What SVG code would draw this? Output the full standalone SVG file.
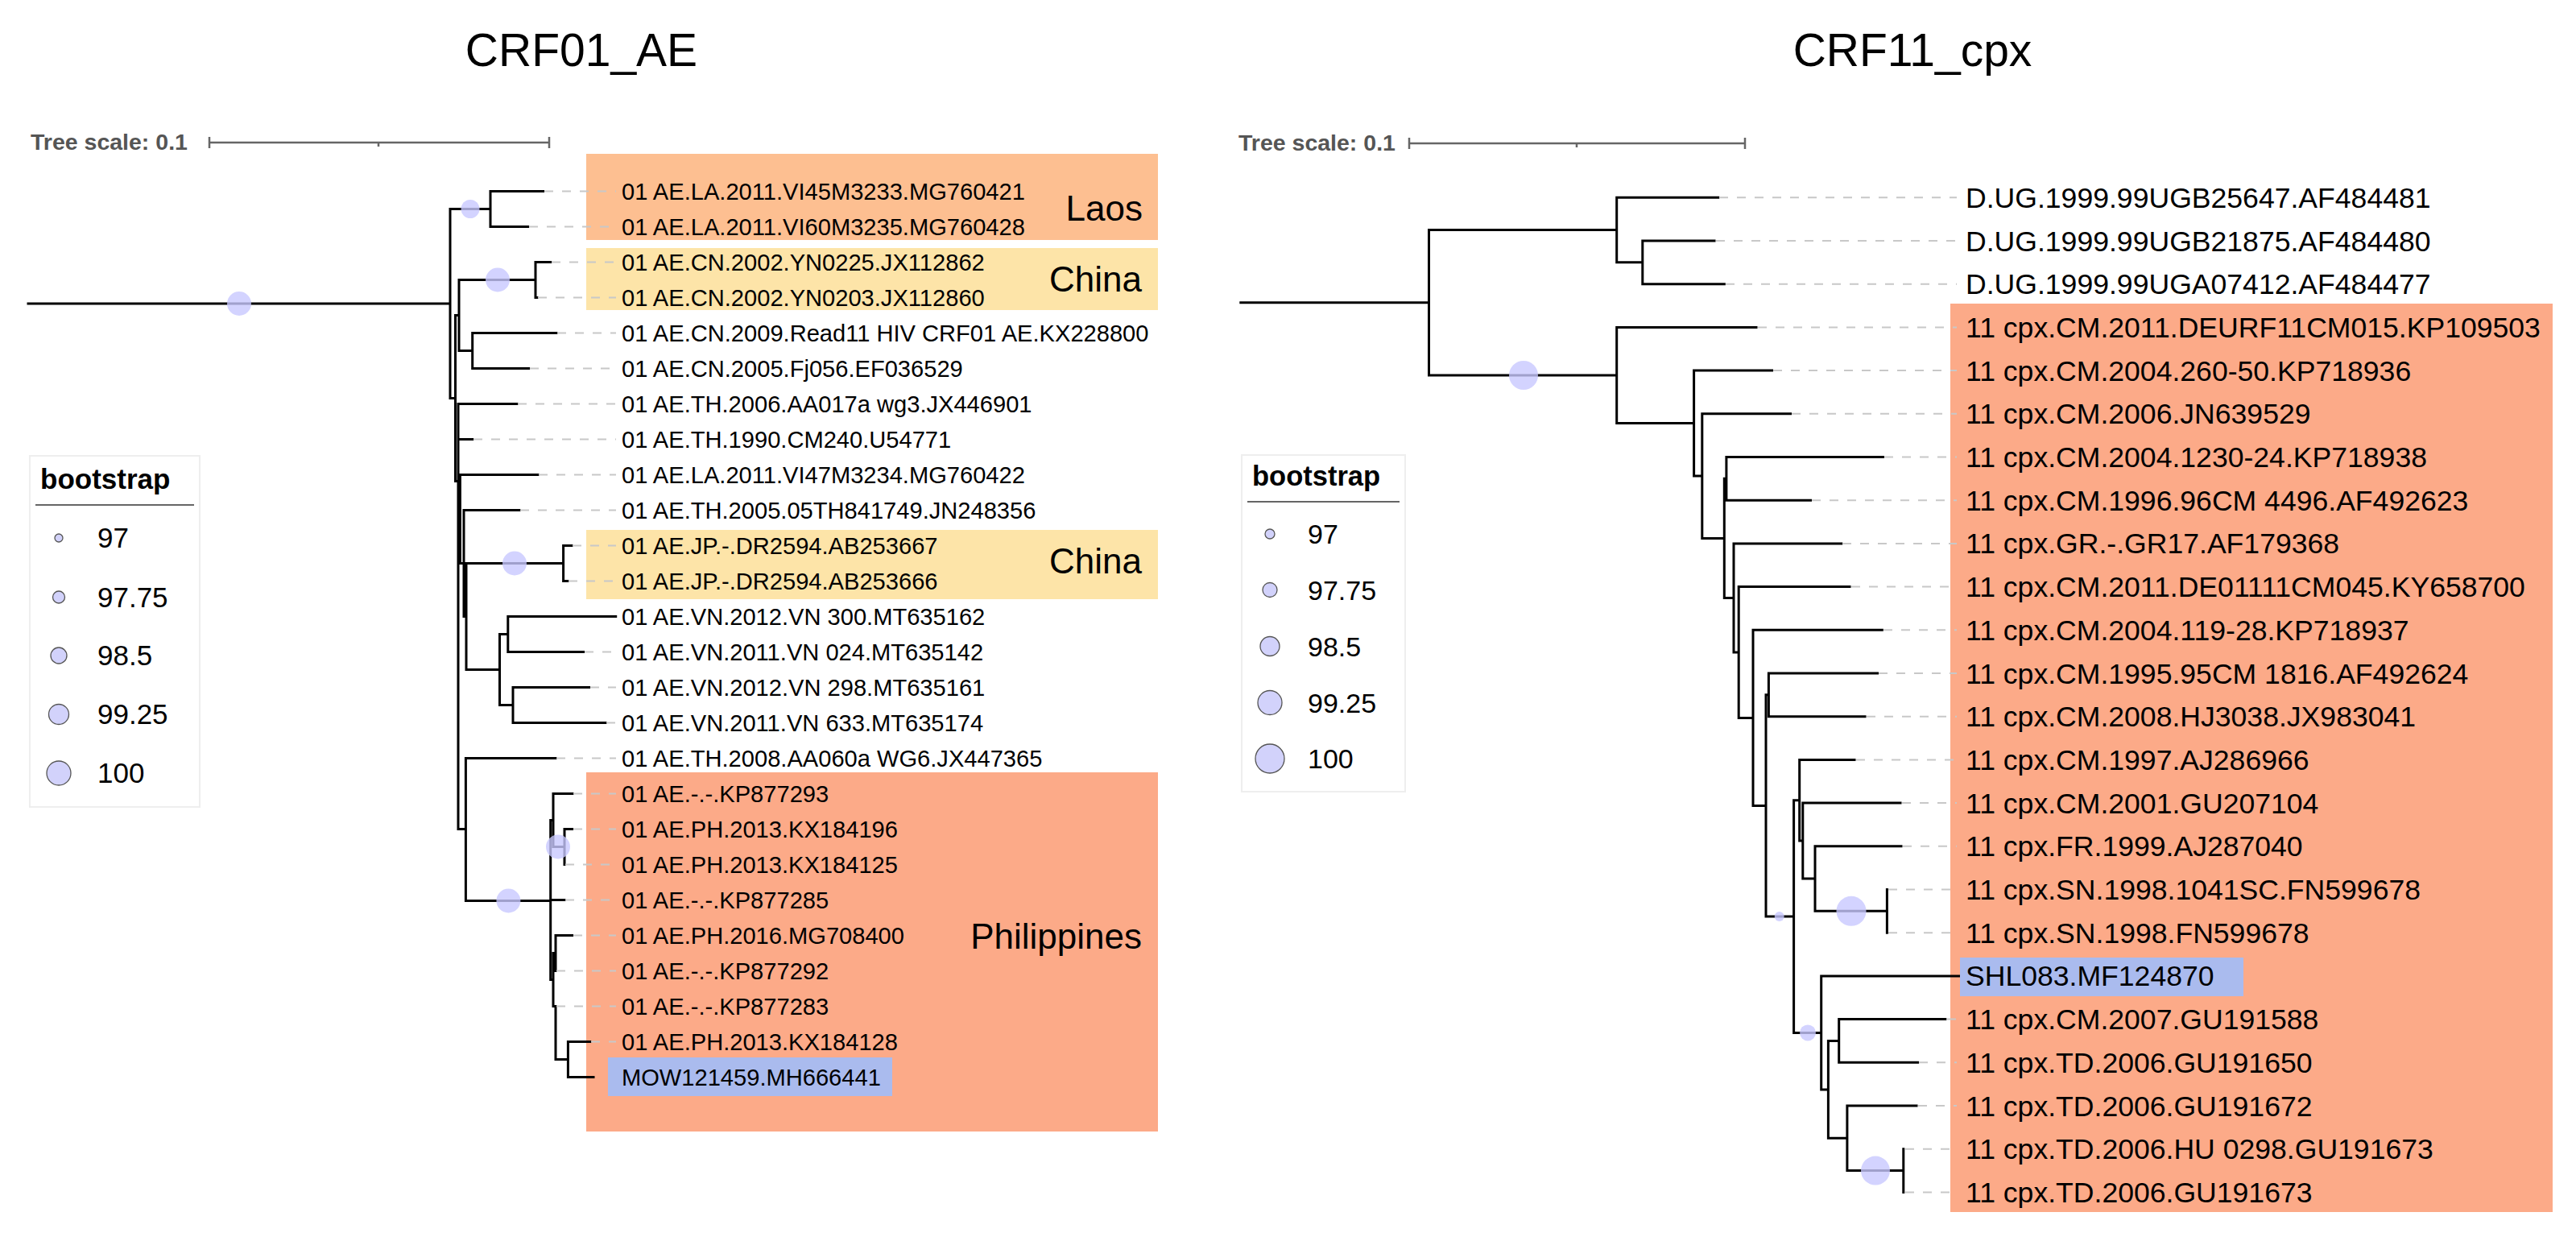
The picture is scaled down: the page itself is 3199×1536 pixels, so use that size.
<svg xmlns="http://www.w3.org/2000/svg" width="3199" height="1536" viewBox="0 0 3199 1536">
<style>
text{font-family:"Liberation Sans",Arial,sans-serif;fill:#000}
.title{font-size:57px}
.scale{font-size:28.5px;font-weight:bold;fill:#555}
.sbar{stroke:#666;stroke-width:2.5;fill:none}
.lab{font-size:29.1px}
.labr{font-size:35.6px}
.hl{font-size:44px;text-anchor:end}
.br{stroke:#000;stroke-width:3;fill:none;stroke-linecap:square}
.dash{stroke:#c8c8c8;stroke-width:2;stroke-dasharray:11 11;fill:none}
.bs{fill:#c8c8ff;fill-opacity:0.8}
.lgc{fill:#d2d2fb;stroke:#555;stroke-width:1.3}
.lgbox{fill:#fff;stroke:#eeeeee;stroke-width:2}
.lgt{font-size:35px;font-weight:bold}
.lgv{font-size:35px}
.lgv2{font-size:34px}
.laos{fill:#fdbf91}
.china{fill:#fde4a8}
.phil{fill:#fcaa88}
.me{fill:#aabbee}
</style>

<!-- ===== LEFT PANEL: CRF01_AE ===== -->
<g id="left-title"><text class="title" x="722" y="82" text-anchor="middle">CRF01_AE</text></g>
<g id="left-scale">
<text class="scale" x="38" y="186">Tree scale: 0.1</text>
<path class="sbar" d="M260,177H682 M260,170V184 M682,170V184 M470,177V182"/>
</g>

<g id="left-highlights">
<rect class="laos" x="728" y="191" width="710" height="107"/>
<rect class="china" x="728" y="308" width="710" height="77"/>
<rect class="china" x="728" y="658" width="710" height="86"/>
<rect class="phil" x="728" y="959" width="710" height="446"/>
<text class="hl" x="1419" y="274">Laos</text>
<text class="hl" x="1418" y="362">China</text>
<text class="hl" x="1418" y="712">China</text>
<text class="hl" x="1418" y="1178">Philippines</text>
</g>

<g id="left-legend">
<rect class="lgbox" x="37" y="566" width="211" height="436"/>
<text class="lgt" x="50" y="607">bootstrap</text>
<line x1="44" y1="627" x2="241" y2="627" stroke="#666" stroke-width="2"/>
<circle class="lgc" cx="73" cy="668" r="5"/><text class="lgv" x="121" y="680">97</text>
<circle class="lgc" cx="73" cy="741.5" r="7.5"/><text class="lgv" x="121" y="753.5">97.75</text>
<circle class="lgc" cx="73" cy="814" r="10"/><text class="lgv" x="121" y="826">98.5</text>
<circle class="lgc" cx="73" cy="887" r="12.5"/><text class="lgv" x="121" y="899">99.25</text>
<circle class="lgc" cx="73" cy="960" r="15"/><text class="lgv" x="121" y="972">100</text>
</g>

<g id="left-connectors">
<path class="br" d="M35,377H559 M559,259.5V494.5
M559,259.5H609 M609,237.5V281.5 M609,237.5H674.5 M609,281.5H655.6
M559,494.5H565.5 M565.5,391.5V597.5
M565.5,391.5H570 M570,347.5V435.5
M570,347.5H665 M665,325.5V369.5 M665,325.5H683.7 M665,369.5H667
M570,435.5H586.7 M586.7,413.5V457.5 M586.7,413.5H691 M586.7,457.5H656.6
M565.5,597.5H569 M569,501.5V1029.5
M569,501.5H642 M569,545.5H586.7
M569,644.5H571.4 M571.4,589.5V699.5 M571.4,589.5H668
M571.4,699.5H576 M576,633.5V765.5 M576,633.5H645
M576,765.5H579 M579,699.5V831.5
M579,699.5H699.6 M699.6,677.5V721.5 M699.6,677.5H710 M699.6,721.5H705
M579,831.5H620.5 M620.5,787.5V875.5 M620.5,787.5H630.8 M630.8,765.5V809.5 M630.8,765.5H764.7 M630.8,809.5H724.5
M620.5,875.5H637 M637,853.5V897.5 M637,853.5H731.5 M637,897.5H752
M569,1029.5H578.4 M578.4,941.5V1118.5 M578.4,941.5H690 M578.4,1118.5H683.7
M683.7,1018.5V1216.5
M683.7,1018.5H687 M687,985.5V1051.5 M687,985.5H711 M687,1051.5H701 M701,1029.5V1073.5 M701,1029.5H710.5
M683.7,1117.5H701
M683.7,1216.5H687 M687,1183.5V1249.5 M687,1183.5H690 M690,1161.5V1205.5 M690,1161.5H710.5
M687,1249.5H690 M690,1249.5V1315.5 M690,1315.5H705.4 M705.4,1293.5V1337.5 M705.4,1293.5H732.8 M705.4,1337.5H737"/>
<path class="dash" d="M676,237.5H765 M657,281.5H765 M685,325.5H765 M668,369.5H765 M692,413.5H765 M658,457.5H765 M643,501.5H765 M588,545.5H765 M669,589.5H765 M646,633.5H765 M711,677.5H765 M706,721.5H765 M726,809.5H765 M733,853.5H765 M753,897.5H765 M691,941.5H765 M712,985.5H765 M712,1029.5H765 M702,1073.5H765 M702,1117.5H765 M712,1161.5H765 M691,1205.5H765 M691,1249.5H765 M734,1293.5H765"/>
</g>

<g id="left-bootstrap">
<circle class="bs" cx="297" cy="377" r="15"/>
<circle class="bs" cx="584" cy="259.5" r="11.5"/>
<circle class="bs" cx="618" cy="347.5" r="15"/>
<circle class="bs" cx="639" cy="699.5" r="15"/>
<circle class="bs" cx="631.4" cy="1118.5" r="15"/>
<circle class="bs" cx="693" cy="1051.5" r="15"/>
</g>

<g id="left-leaves">
<g id="L01"><text class="lab" x="772" y="247.5">01 AE.LA.2011.VI45M3233.MG760421</text></g>
<g id="L02"><text class="lab" x="772" y="291.5">01 AE.LA.2011.VI60M3235.MG760428</text></g>
<g id="L03"><text class="lab" x="772" y="335.5">01 AE.CN.2002.YN0225.JX112862</text></g>
<g id="L04"><text class="lab" x="772" y="379.5">01 AE.CN.2002.YN0203.JX112860</text></g>
<g id="L05"><text class="lab" x="772" y="423.5">01 AE.CN.2009.Read11 HIV CRF01 AE.KX228800</text></g>
<g id="L06"><text class="lab" x="772" y="467.5">01 AE.CN.2005.Fj056.EF036529</text></g>
<g id="L07"><text class="lab" x="772" y="511.5">01 AE.TH.2006.AA017a wg3.JX446901</text></g>
<g id="L08"><text class="lab" x="772" y="555.5">01 AE.TH.1990.CM240.U54771</text></g>
<g id="L09"><text class="lab" x="772" y="599.5">01 AE.LA.2011.VI47M3234.MG760422</text></g>
<g id="L10"><text class="lab" x="772" y="643.5">01 AE.TH.2005.05TH841749.JN248356</text></g>
<g id="L11"><text class="lab" x="772" y="687.5">01 AE.JP.-.DR2594.AB253667</text></g>
<g id="L12"><text class="lab" x="772" y="731.5">01 AE.JP.-.DR2594.AB253666</text></g>
<g id="L13"><text class="lab" x="772" y="775.5">01 AE.VN.2012.VN 300.MT635162</text></g>
<g id="L14"><text class="lab" x="772" y="819.5">01 AE.VN.2011.VN 024.MT635142</text></g>
<g id="L15"><text class="lab" x="772" y="863.5">01 AE.VN.2012.VN 298.MT635161</text></g>
<g id="L16"><text class="lab" x="772" y="907.5">01 AE.VN.2011.VN 633.MT635174</text></g>
<g id="L17"><text class="lab" x="772" y="951.5">01 AE.TH.2008.AA060a WG6.JX447365</text></g>
<g id="L18"><text class="lab" x="772" y="995.5">01 AE.-.-.KP877293</text></g>
<g id="L19"><text class="lab" x="772" y="1039.5">01 AE.PH.2013.KX184196</text></g>
<g id="L20"><text class="lab" x="772" y="1083.5">01 AE.PH.2013.KX184125</text></g>
<g id="L21"><text class="lab" x="772" y="1127.5">01 AE.-.-.KP877285</text></g>
<g id="L22"><text class="lab" x="772" y="1171.5">01 AE.PH.2016.MG708400</text></g>
<g id="L23"><text class="lab" x="772" y="1215.5">01 AE.-.-.KP877292</text></g>
<g id="L24"><text class="lab" x="772" y="1259.5">01 AE.-.-.KP877283</text></g>
<g id="L25"><text class="lab" x="772" y="1303.5">01 AE.PH.2013.KX184128</text></g>
<g id="L26"><rect class="me" x="755" y="1313" width="353" height="48"/><text class="lab" x="772" y="1347.5">MOW121459.MH666441</text></g>
</g>

<!-- ===== RIGHT PANEL: CRF11_cpx ===== -->
<g id="right-title"><text class="title" x="2375" y="82" text-anchor="middle">CRF11_cpx</text></g>
<g id="right-scale">
<text class="scale" x="1538" y="187">Tree scale: 0.1</text>
<path class="sbar" d="M1750,178H2167 M1750,171V185 M2167,171V185 M1958,178V183"/>
</g>

<g id="right-highlights">
<rect class="phil" x="2422" y="377" width="748" height="1128"/>
</g>

<g id="right-legend">
<rect class="lgbox" x="1542" y="565" width="203" height="418"/>
<text class="lgt" x="1555" y="603" style="font-size:34.5px">bootstrap</text>
<line x1="1549" y1="623" x2="1738" y2="623" stroke="#666" stroke-width="2"/>
<circle class="lgc" cx="1577" cy="663" r="6"/><text class="lgv2" x="1624" y="675">97</text>
<circle class="lgc" cx="1577" cy="732.5" r="9"/><text class="lgv2" x="1624" y="744.5">97.75</text>
<circle class="lgc" cx="1577" cy="802.5" r="12"/><text class="lgv2" x="1624" y="814.5">98.5</text>
<circle class="lgc" cx="1577" cy="872.5" r="15"/><text class="lgv2" x="1624" y="884.5">99.25</text>
<circle class="lgc" cx="1577" cy="942" r="18"/><text class="lgv2" x="1624" y="954">100</text>
</g>

<g id="right-connectors">
<path class="br" d="M1540.8,375.8H1774.5 M1774.5,285.6V466
M1774.5,285.6H2007.7 M2007.7,245.3V325.85 M2007.7,245.3H2133.7 M2007.7,325.85H2039.8 M2039.8,299V352.7 M2039.8,299H2129 M2039.8,352.7H2141.3
M1774.5,466H2007.7 M2007.7,406.4V525.6 M2007.7,406.4H2181
M2007.7,525.6H2103.6 M2103.6,460.1V591.1 M2103.6,460.1H2200.5
M2103.6,591.1H2113.8 M2113.8,513.8V668.4 M2113.8,513.8H2223.5
M2113.8,668.4H2141.3 M2141.3,594.35V742.45
M2141.3,594.35H2143.9 M2143.9,567.5V621.2 M2143.9,567.5H2338.4 M2143.9,621.2H2248.5
M2141.3,742.45H2153 M2153,674.9V810 M2153,674.9H2286.7
M2153,810H2159.2 M2159.2,728.6V891.4 M2159.2,728.6H2297
M2159.2,891.4H2177 M2177,782.3V1000.5 M2177,782.3H2337.3
M2177,1000.5H2193 M2193,862.85V1138.1
M2193,862.85H2196.4 M2196.4,836V889.7 M2196.4,836H2331.5 M2196.4,889.7H2316
M2193,1138.1H2227.6 M2227.6,993.75V1282.4
M2227.6,993.75H2234.7 M2234.7,943.4V1044.1 M2234.7,943.4H2303
M2234.7,1044.1H2238.8 M2238.8,997.1V1091.1 M2238.8,997.1H2360
M2238.8,1091.1H2254 M2254,1050.8V1131.35 M2254,1050.8H2361
M2254,1131.35H2343.4 M2343.4,1104.5V1158.2
M2227.6,1282.4H2261.7 M2261.7,1211.9V1352.9 M2261.7,1211.9H2432.7
M2261.7,1352.9H2270.4 M2270.4,1292.45V1413.3
M2270.4,1292.45H2283.7 M2283.7,1265.6V1319.3 M2283.7,1265.6H2415.8 M2283.7,1319.3H2381.6
M2270.4,1413.3H2293.9 M2293.9,1373V1453.55 M2293.9,1373H2380
M2293.9,1453.55H2363.8 M2363.8,1426.7V1480.4"/>
<path class="dash" d="M2135,245.3H2430 M2131,299H2430 M2143,352.7H2430 M2183,406.4H2430 M2202,460.1H2430 M2225,513.8H2430 M2340,567.5H2430 M2250,621.2H2430 M2288,674.9H2430 M2299,728.6H2430 M2339,782.3H2430 M2333,836H2430 M2318,889.7H2430 M2305,943.4H2430 M2362,997.1H2430 M2363,1050.8H2430 M2345,1104.5H2430 M2345,1158.2H2430 M2418,1265.6H2430 M2383,1319.3H2430 M2382,1373H2430 M2366,1426.7H2430 M2366,1480.4H2430"/>
</g>

<g id="right-bootstrap">
<circle class="bs" cx="1892" cy="466" r="18"/>
<circle class="bs" cx="2209.7" cy="1138.1" r="6"/>
<circle class="bs" cx="2245" cy="1282.4" r="10"/>
<circle class="bs" cx="2299" cy="1131.35" r="18.5"/>
<circle class="bs" cx="2329" cy="1453.55" r="18"/>
</g>

<g id="right-leaves">
<g id="R01"><text class="labr" x="2441" y="257.8">D.UG.1999.99UGB25647.AF484481</text></g>
<g id="R02"><text class="labr" x="2441" y="311.5">D.UG.1999.99UGB21875.AF484480</text></g>
<g id="R03"><text class="labr" x="2441" y="365.2">D.UG.1999.99UGA07412.AF484477</text></g>
<g id="R04"><text class="labr" x="2441" y="418.9">11 cpx.CM.2011.DEURF11CM015.KP109503</text></g>
<g id="R05"><text class="labr" x="2441" y="472.6">11 cpx.CM.2004.260-50.KP718936</text></g>
<g id="R06"><text class="labr" x="2441" y="526.3">11 cpx.CM.2006.JN639529</text></g>
<g id="R07"><text class="labr" x="2441" y="580">11 cpx.CM.2004.1230-24.KP718938</text></g>
<g id="R08"><text class="labr" x="2441" y="633.7">11 cpx.CM.1996.96CM 4496.AF492623</text></g>
<g id="R09"><text class="labr" x="2441" y="687.4">11 cpx.GR.-.GR17.AF179368</text></g>
<g id="R10"><text class="labr" x="2441" y="741.1">11 cpx.CM.2011.DE01111CM045.KY658700</text></g>
<g id="R11"><text class="labr" x="2441" y="794.8">11 cpx.CM.2004.119-28.KP718937</text></g>
<g id="R12"><text class="labr" x="2441" y="848.5">11 cpx.CM.1995.95CM 1816.AF492624</text></g>
<g id="R13"><text class="labr" x="2441" y="902.2">11 cpx.CM.2008.HJ3038.JX983041</text></g>
<g id="R14"><text class="labr" x="2441" y="955.9">11 cpx.CM.1997.AJ286966</text></g>
<g id="R15"><text class="labr" x="2441" y="1009.6">11 cpx.CM.2001.GU207104</text></g>
<g id="R16"><text class="labr" x="2441" y="1063.3">11 cpx.FR.1999.AJ287040</text></g>
<g id="R17"><text class="labr" x="2441" y="1117">11 cpx.SN.1998.1041SC.FN599678</text></g>
<g id="R18"><text class="labr" x="2441" y="1170.7">11 cpx.SN.1998.FN599678</text></g>
<g id="R19"><rect class="me" x="2434" y="1189" width="352" height="48"/><text class="labr" x="2441" y="1224.4">SHL083.MF124870</text></g>
<g id="R20"><text class="labr" x="2441" y="1278.1">11 cpx.CM.2007.GU191588</text></g>
<g id="R21"><text class="labr" x="2441" y="1331.8">11 cpx.TD.2006.GU191650</text></g>
<g id="R22"><text class="labr" x="2441" y="1385.5">11 cpx.TD.2006.GU191672</text></g>
<g id="R23"><text class="labr" x="2441" y="1439.2">11 cpx.TD.2006.HU 0298.GU191673</text></g>
<g id="R24"><text class="labr" x="2441" y="1492.9">11 cpx.TD.2006.GU191673</text></g>
</g>
</svg>
